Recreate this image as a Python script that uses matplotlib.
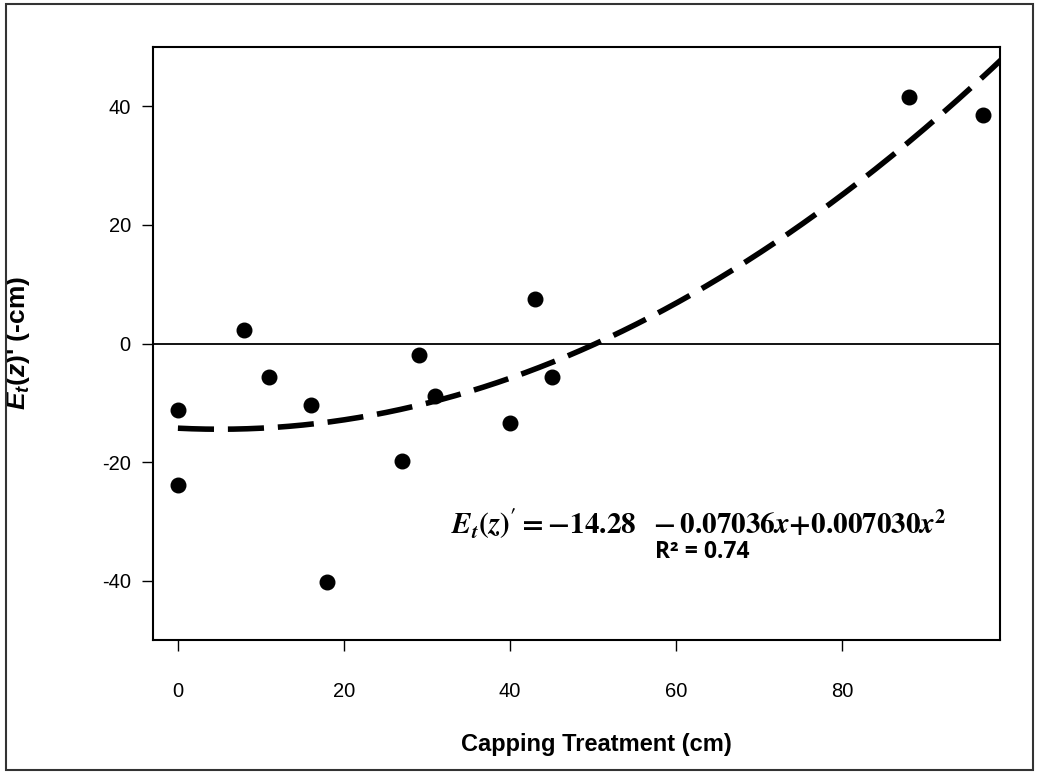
import numpy as np
import matplotlib
matplotlib.use("Agg")
import matplotlib.pyplot as plt
from matplotlib.patches import Rectangle

# data
cap = [0, 0, 8, 11, 16, 18, 27, 29, 31, 40, 43, 45, 88, 97]
et = [-11.2, -23.9, 2.2, -5.6, -10.3, -40.2, -19.8, -1.9, -8.8, -13.4, 7.5, -5.6, 41.5, 38.6]
coef = [-14.28, -0.07036, 0.007030]
xticks = [0, 20, 40, 60, 80]
yticks = [-40, -20, 0, 20, 40]

plt.rcParams['font.family'] = ['Liberation Sans', 'DejaVu Sans']
plt.rcParams['axes.unicode_minus'] = False
plt.rcParams['mathtext.fontset'] = 'custom'
plt.rcParams['mathtext.it'] = 'Liberation Sans:italic:bold'
plt.rcParams['mathtext.rm'] = 'Liberation Sans:bold'
plt.rcParams['mathtext.bf'] = 'Liberation Sans:bold'

fig = plt.figure(figsize=(10.37, 7.72), dpi=100)
ax = fig.add_axes([153/1037, 132/772, 847/1037, 593/772])

# frame around the whole figure
fig.patches.append(Rectangle((6/1037, 2/772), 1027/1037, 766/772, transform=fig.transFigure,
                             fill=False, lw=1.5, ec='#333333'))

ax.axhline(0, color='black', lw=1.3, zorder=1)
ax.scatter(cap, et, s=110, color='black', zorder=3)

xf = np.linspace(0, 100, 300)
yf = coef[0] + coef[1]*xf + coef[2]*xf**2
ax.plot(xf, yf, color='black', lw=4, linestyle=(0, (6.5, 2.5)), zorder=2)

ax.set_xlim(-3, 99)
ax.set_ylim(-50, 50)
ax.set_xticks(xticks)
ax.set_yticks(yticks)
ax.tick_params(direction='out', length=8, width=1, labelsize=14.5)
ax.tick_params(axis='x', pad=22)
ax.tick_params(axis='y', pad=8)
for s in ax.spines.values():
    s.set_linewidth(1.5)

ax.set_xlabel('Capping Treatment (cm)', fontsize=17, fontweight='bold')
ax.xaxis.set_label_coords(0.524, -0.156)
ax.set_ylabel(r"$E_t(z)$' (-cm)", fontsize=19, fontweight='bold')
ax.yaxis.set_label_coords(-0.143, 0.5)

ax.text(0.645, 0.196,
        r"$\mathbfit{E_t}\mathbf{(}\mathbfit{z}\mathbf{)' = -14.28\ \ - 0.07036}\mathbfit{x}"
        r"\mathbf{ + 0.007030}\mathbfit{x}^\mathbf{2}$",
        math_fontfamily='stix',
        transform=ax.transAxes, ha='center', va='center', fontsize=21)
ax.text(0.648, 0.148, 'R² = 0.74', family=['Open Sans', 'DejaVu Sans'], fontweight='bold',
        transform=ax.transAxes, ha='center', va='center', fontsize=16.5)

fig.savefig('out.png', dpi=100)
